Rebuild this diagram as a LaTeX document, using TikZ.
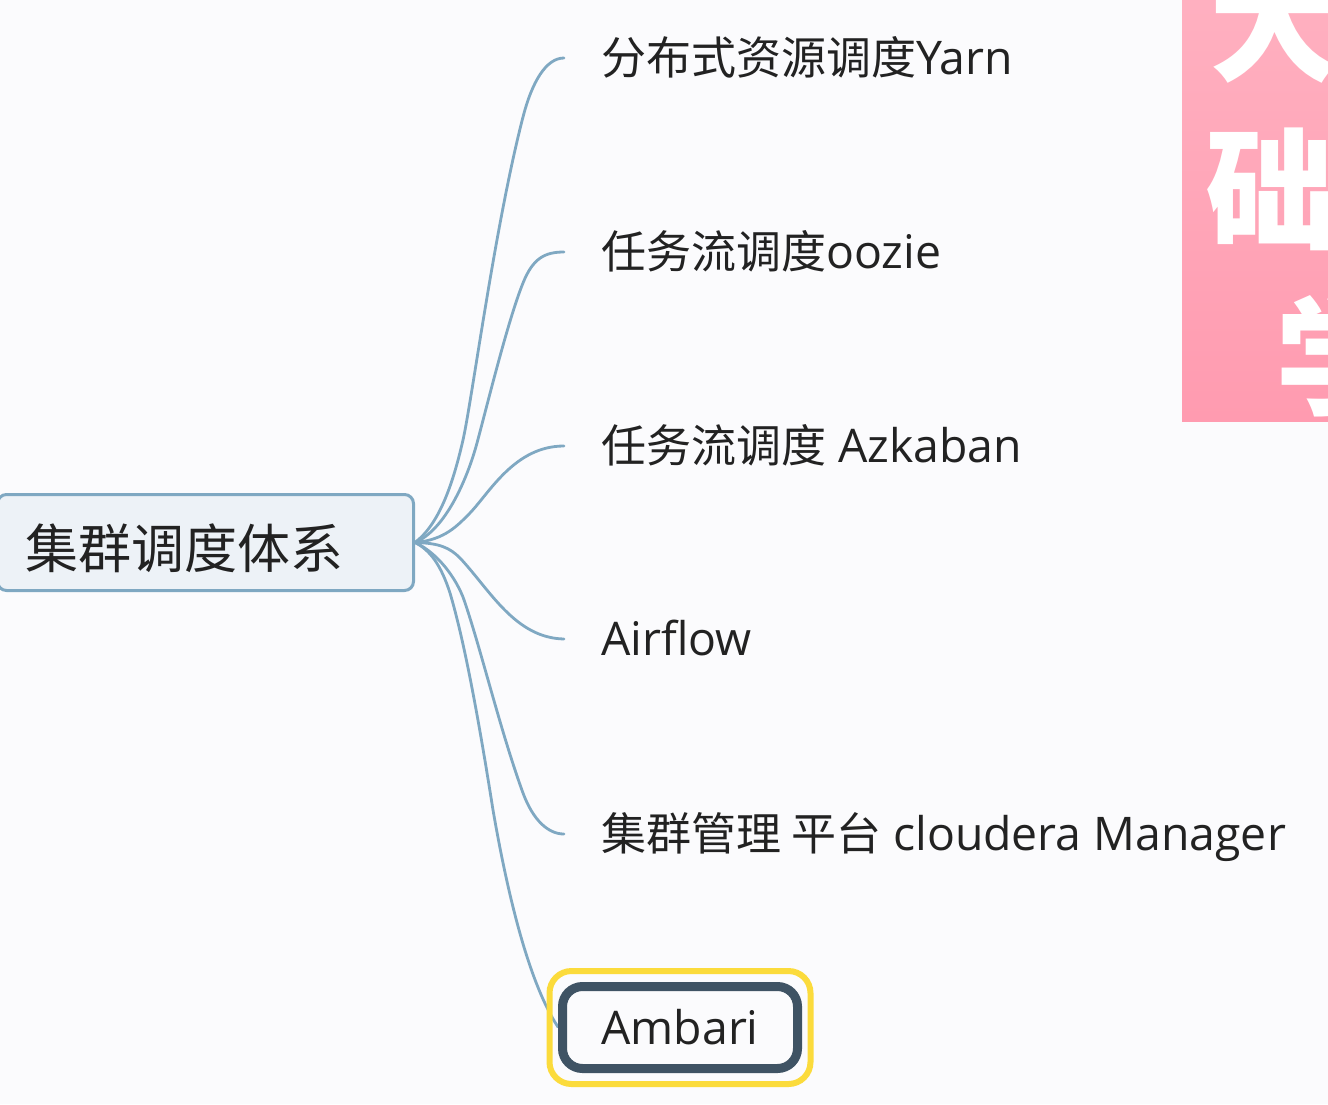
\documentclass[tikz,border=0pt]{standalone}
\usepackage{fontspec}
\setmainfont[Scale=1.03]{Open Sans}
\newfontfamily\cjk{Noto Sans CJK SC}
\newfontfamily\cjkb{Noto Sans CJK SC Black}
\newcommand{\cn}[1]{{\cjk #1}}
\definecolor{bgc}{HTML}{FBFBFD}
\definecolor{linec}{HTML}{7FA8C2}
\definecolor{rootfill}{HTML}{EDF2F7}
\definecolor{txtc}{HTML}{222222}
\definecolor{darkb}{HTML}{3F5364}
\definecolor{yel}{HTML}{FBDB3C}
\definecolor{pinkT}{HTML}{FFB0C0}
\definecolor{pinkB}{HTML}{FF9BB0}
\tikzset{
  x=1pt,y=-1pt,
  rootbox/.style={draw=linec,line width=3pt,fill=rootfill,rounded corners=9pt,minimum height=96pt,text width=416pt,text height=60pt,text depth=9pt,inner xsep=0pt,inner ysep=0pt,anchor=east,font=\fontsize{53}{56}\selectfont,text=txtc,align=left},
  leaf/.style={anchor=west,inner xsep=37pt,inner ysep=0pt,text height=46pt,text depth=14pt,font=\fontsize{45}{50}\selectfont,text=txtc},
  link/.style={draw=linec,line width=2.8pt,line cap=round},
  sel/.style={rounded corners=20pt,draw=darkb,line width=9pt,fill=bgc,minimum width=235pt,minimum height=82pt,inner sep=0pt,anchor=center,font=\fontsize{45}{50}\selectfont,text=txtc},
  halo/.style={draw=yel,line width=6pt,rounded corners=22pt},
  bigch/.style={text=white,inner sep=0pt,anchor=center,font=\cjkb\fontsize{130}{130}\selectfont}
}
\begin{document}
\begin{tikzpicture}
\useasboundingbox (0,0) rectangle (1328,1104);
\fill[bgc] (0,0) rectangle (1328,1104);
% pink panel
\begin{scope}
\clip (1182,0) rectangle (1328,421);
\shade[top color=pinkT,bottom color=pinkB] (1182,0) rectangle (1328,421);
\node[bigch] (c1) at (1274,22) {大};
\node[bigch] (c2) at (1270,189) {础};
\node[bigch] (c3) at (1340,355) {学};
\end{scope}
% nodes
\node[rootbox] (root) at (415,542.5) {\hspace*{28pt}\cn{集群调度体系}};
\node[leaf] (a) at (564,58) {\cn{分布式资源调度}Yarn};
\node[leaf] (b) at (564,252) {\cn{任务流调度}oozie};
\node[leaf] (c) at (564,446) {\cn{任务流调度} Azkaban};
\node[leaf] (d) at (564,639) {Airflow};
\node[leaf] (e) at (564,834) {\cn{集群管理 平台} cloudera Manager};
\coordinate (fend) at (558,1027);
% connectors
\draw[link] (root.east) .. controls (438,525) and (452,488) .. (463,440) .. controls (472,400) and (495,225) .. (523,117) .. controls (532,82) and (546,58) .. (a.west);
\draw[link] (root.east) .. controls (445,530) and (467,480) .. (477,443) .. controls (487,406) and (508,320) .. (523,283) .. controls (533,258) and (545,252) .. (b.west);
\draw[link] (root.east) .. controls (445,540) and (458,525) .. (470,513) .. controls (490,492) and (515,446) .. (c.west);
\draw[link] (root.east) .. controls (440,543) and (450,548) .. (460,558) .. controls (490,590) and (515,638) .. (d.west);
\draw[link] (root.east) .. controls (432,550) and (452,570) .. (463,597) .. controls (480,645) and (500,730) .. (523,793) .. controls (533,820) and (548,834) .. (e.west);
\draw[link] (root.east) .. controls (430,550) and (441,565) .. (450,593) .. controls (464,640) and (478,715) .. (493,810) .. controls (506,885) and (527,980) .. (fend);
% selected node
\draw[halo] (549.5,971) rectangle (810.5,1084);
\node[sel] (f) at (680,1027.5) {Ambari};
\end{tikzpicture}
\end{document}
